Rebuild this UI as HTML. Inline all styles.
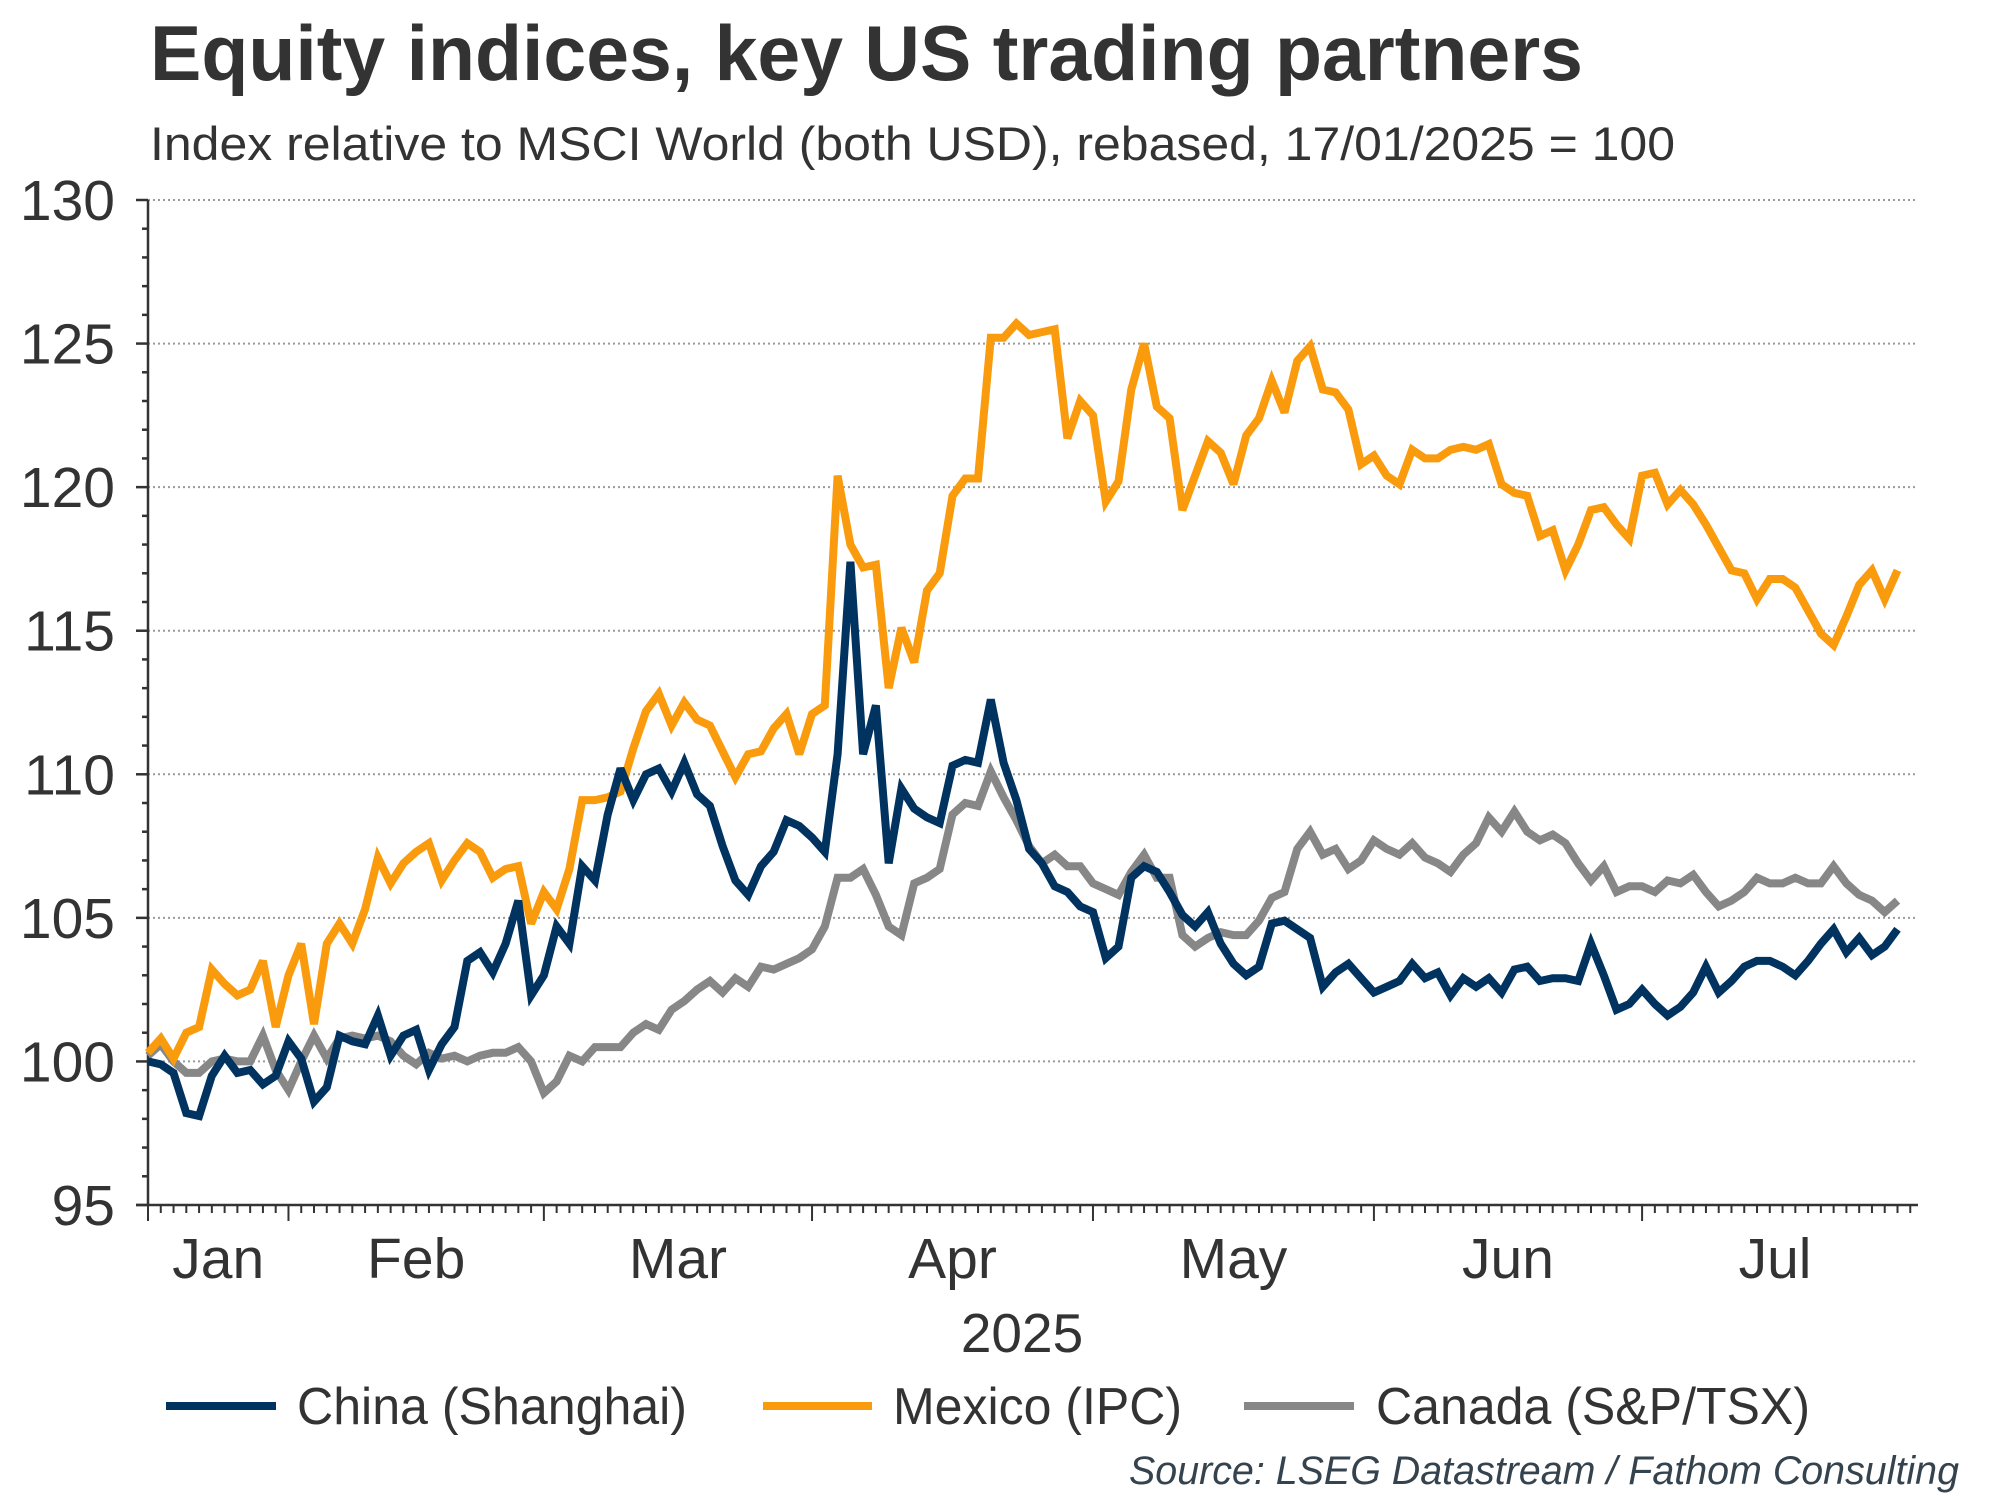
<!DOCTYPE html>
<html><head><meta charset="utf-8"><style>
html,body{margin:0;padding:0;background:#fff;}
svg{display:block;font-family:"Liberation Sans",Arial,sans-serif;}
</style></head><body>
<svg id="chart" width="2000" height="1500" viewBox="0 0 2000 1500" xmlns="http://www.w3.org/2000/svg">
<text x="150" y="80" font-size="78" font-weight="bold" fill="#333" textLength="1433" lengthAdjust="spacingAndGlyphs">Equity indices, key US trading partners</text>
<text x="150" y="160" font-size="47" fill="#333" textLength="1525" lengthAdjust="spacingAndGlyphs">Index relative to MSCI World (both USD), rebased, 17/01/2025 = 100</text>
<g id="grid"></g>
<g id="axes"></g>
<g id="series"></g>
<text x="1022" y="1352" font-size="55" fill="#333" text-anchor="middle">2025</text>
<g>
<g><line x1="166" y1="1406" x2="276" y2="1406" stroke="#00335f" stroke-width="8"/><text x="297" y="1424" font-size="52" fill="#333" textLength="390" lengthAdjust="spacingAndGlyphs">China (Shanghai)</text></g>
<g><line x1="763" y1="1406" x2="872" y2="1406" stroke="#f99b0c" stroke-width="8"/><text x="893" y="1424" font-size="52" fill="#333" textLength="289" lengthAdjust="spacingAndGlyphs">Mexico (IPC)</text></g>
<g><line x1="1244" y1="1406" x2="1354" y2="1406" stroke="#878787" stroke-width="8"/><text x="1376" y="1424" font-size="52" fill="#333" textLength="434" lengthAdjust="spacingAndGlyphs">Canada (S&amp;P/TSX)</text></g>
</g>
<text x="1959" y="1484" font-size="40" font-style="italic" fill="#34434d" text-anchor="end" textLength="830" lengthAdjust="spacingAndGlyphs">Source: LSEG Datastream / Fathom Consulting</text>
</svg>
<script>
const yTicks = [95,100,105,110,115,120,125,130];
const months = ["Jan","Feb","Mar","Apr","May","Jun","Jul"];
const monthStarts = [0,11,31,52,74,96,117];
const china = [100.0,99.9,99.6,98.2,98.1,99.5,100.2,99.6,99.7,99.2,
99.5,100.7,100.1,98.6,99.1,100.9,100.7,100.6,101.6,100.2,
100.9,101.1,99.7,100.6,101.2,103.5,103.8,103.1,104.1,105.6,
102.3,103.0,104.7,104.1,106.8,106.3,108.6,110.2,109.1,110.0,
110.2,109.4,110.4,109.3,108.9,107.5,106.3,105.8,106.8,107.3,
108.4,108.2,107.8,107.3,110.7,117.4,110.7,112.4,106.9,109.5,
108.8,108.5,108.3,110.3,110.5,110.4,112.6,110.4,109.1,107.4,
106.9,106.1,105.9,105.4,105.2,103.6,104.0,106.4,106.8,106.6,
105.9,105.1,104.7,105.2,104.1,103.4,103.0,103.3,104.8,104.9,
104.6,104.3,102.6,103.1,103.4,102.9,102.4,102.6,102.8,103.4,
102.9,103.1,102.3,102.9,102.6,102.9,102.4,103.2,103.3,102.8,
102.9,102.9,102.8,104.1,103.0,101.8,102.0,102.5,102.0,101.6,
101.9,102.4,103.3,102.4,102.8,103.3,103.5,103.5,103.3,103.0,
103.5,104.1,104.6,103.8,104.3,103.7,104.0,104.6];
const mexico = [100.3,100.8,100.1,101.0,101.2,103.2,102.7,102.3,102.5,103.5,
101.2,103.0,104.1,101.3,104.1,104.8,104.1,105.3,107.1,106.2,
106.9,107.3,107.6,106.3,107.0,107.6,107.3,106.4,106.7,106.8,
104.8,105.9,105.3,106.7,109.1,109.1,109.2,109.4,110.9,112.2,
112.8,111.7,112.5,111.9,111.7,110.8,109.9,110.7,110.8,111.6,
112.1,110.7,112.1,112.4,120.4,118.0,117.2,117.3,113.0,115.1,
113.9,116.4,117.0,119.7,120.3,120.3,125.2,125.2,125.7,125.3,
125.4,125.5,121.7,123.0,122.5,119.5,120.2,123.4,125.0,122.8,
122.4,119.2,120.4,121.6,121.2,120.1,121.8,122.4,123.7,122.6,
124.4,124.9,123.4,123.3,122.7,120.8,121.1,120.4,120.1,121.3,
121.0,121.0,121.3,121.4,121.3,121.5,120.1,119.8,119.7,118.3,
118.5,117.1,118.0,119.2,119.3,118.7,118.2,120.4,120.5,119.4,
119.9,119.4,118.7,117.9,117.1,117.0,116.1,116.8,116.8,116.5,
115.7,114.9,114.5,115.5,116.6,117.1,116.1,117.1];
const canada = [100.2,100.6,100.0,99.6,99.6,100.0,100.1,100.0,100.0,100.9,
99.7,99.0,100.0,100.9,100.1,100.8,100.9,100.8,100.9,100.7,
100.2,99.9,100.3,100.1,100.2,100.0,100.2,100.3,100.3,100.5,
100.0,98.9,99.3,100.2,100.0,100.5,100.5,100.5,101.0,101.3,
101.1,101.8,102.1,102.5,102.8,102.4,102.9,102.6,103.3,103.2,
103.4,103.6,103.9,104.7,106.4,106.4,106.7,105.8,104.7,104.4,
106.2,106.4,106.7,108.6,109.0,108.9,110.1,109.2,108.4,107.5,
106.9,107.2,106.8,106.8,106.2,106.0,105.8,106.6,107.2,106.4,
106.4,104.4,104.0,104.3,104.5,104.4,104.4,104.9,105.7,105.9,
107.4,108.0,107.2,107.4,106.7,107.0,107.7,107.4,107.2,107.6,
107.1,106.9,106.6,107.2,107.6,108.5,108.0,108.7,108.0,107.7,
107.9,107.6,106.9,106.3,106.8,105.9,106.1,106.1,105.9,106.3,
106.2,106.5,105.9,105.4,105.6,105.9,106.4,106.2,106.2,106.4,
106.2,106.2,106.8,106.2,105.8,105.6,105.2,105.6];

const NS = "http://www.w3.org/2000/svg";
const X0 = 148, X1 = 1918, STEP = 12.77, Y0 = 1205, Y1 = 200, VMIN = 95, VMAX = 130;
const totalDays = (X1 - X0) / STEP;
function xs(n){ return X0 + n * STEP; }
function ys(v){ return Y0 - (v - VMIN) * (Y0 - Y1) / (VMAX - VMIN); }
function mk(tag, attrs, parent){ const e = document.createElementNS(NS, tag); for (const k in attrs) e.setAttribute(k, attrs[k]); parent.appendChild(e); return e; }

const grid = document.getElementById('grid');
const axes = document.getElementById('axes');
yTicks.forEach(v => {
  if (v > VMIN) {
    const g = mk('line', {x1: X0, x2: X1, y1: ys(v), y2: ys(v), stroke: '#9a9a9a', 'stroke-width': 2, 'stroke-dasharray': '2 3'}, grid);
    
    
  }
  const t = mk('text', {x: 115, y: ys(v) + 20, 'font-size': 57, fill: '#333', 'text-anchor': 'end'}, axes);
  t.textContent = v;
  
  
});
for (let v = VMIN; v <= VMAX; v++) {
  const major = (v % 5 === 0);
  const tk = mk('line', {x1: major ? 136 : 142, x2: X0, y1: ys(v), y2: ys(v), stroke: '#333', 'stroke-width': 2.5}, axes);
  
  
}
const ya = mk('line', {x1: X0, x2: X0, y1: Y1, y2: Y0, stroke: '#333', 'stroke-width': 2.5}, axes);


const xa = mk('line', {x1: X0 - 12, x2: X1, y1: Y0, y2: Y0, stroke: '#333', 'stroke-width': 2.5}, axes);


for (let n = 0; n <= Math.floor(totalDays); n++) {
  const major = monthStarts.indexOf(n) >= 0;
  const tk = mk('line', {x1: xs(n), x2: xs(n), y1: Y0, y2: Y0 + (major ? 16 : 8), stroke: '#333', 'stroke-width': 2}, axes);
  
  
}
months.forEach((m, i) => {
  const a = xs(monthStarts[i]);
  const b = i + 1 < monthStarts.length ? xs(monthStarts[i + 1]) : X1 - 10;
  const t = mk('text', {x: (a + b) / 2, y: 1278, 'font-size': 57, fill: '#333', 'text-anchor': 'middle'}, axes);
  t.textContent = m;
  
  
});

const seriesG = document.getElementById('series');
function drawSeries(vals, color, name){
  const d = vals.map((v, i) => (i ? 'L' : 'M') + xs(i).toFixed(1) + ' ' + ys(v).toFixed(1)).join(' ');
  const p = mk('path', {d: d, fill: 'none', stroke: color, 'stroke-width': 8, 'stroke-linejoin': 'miter', 'stroke-miterlimit': 3}, seriesG);
  
  
}
drawSeries(canada, '#878787', 'canada-line');
drawSeries(mexico, '#f99b0c', 'mexico-line');
drawSeries(china, '#00335f', 'china-line');
</script>
</body></html>
